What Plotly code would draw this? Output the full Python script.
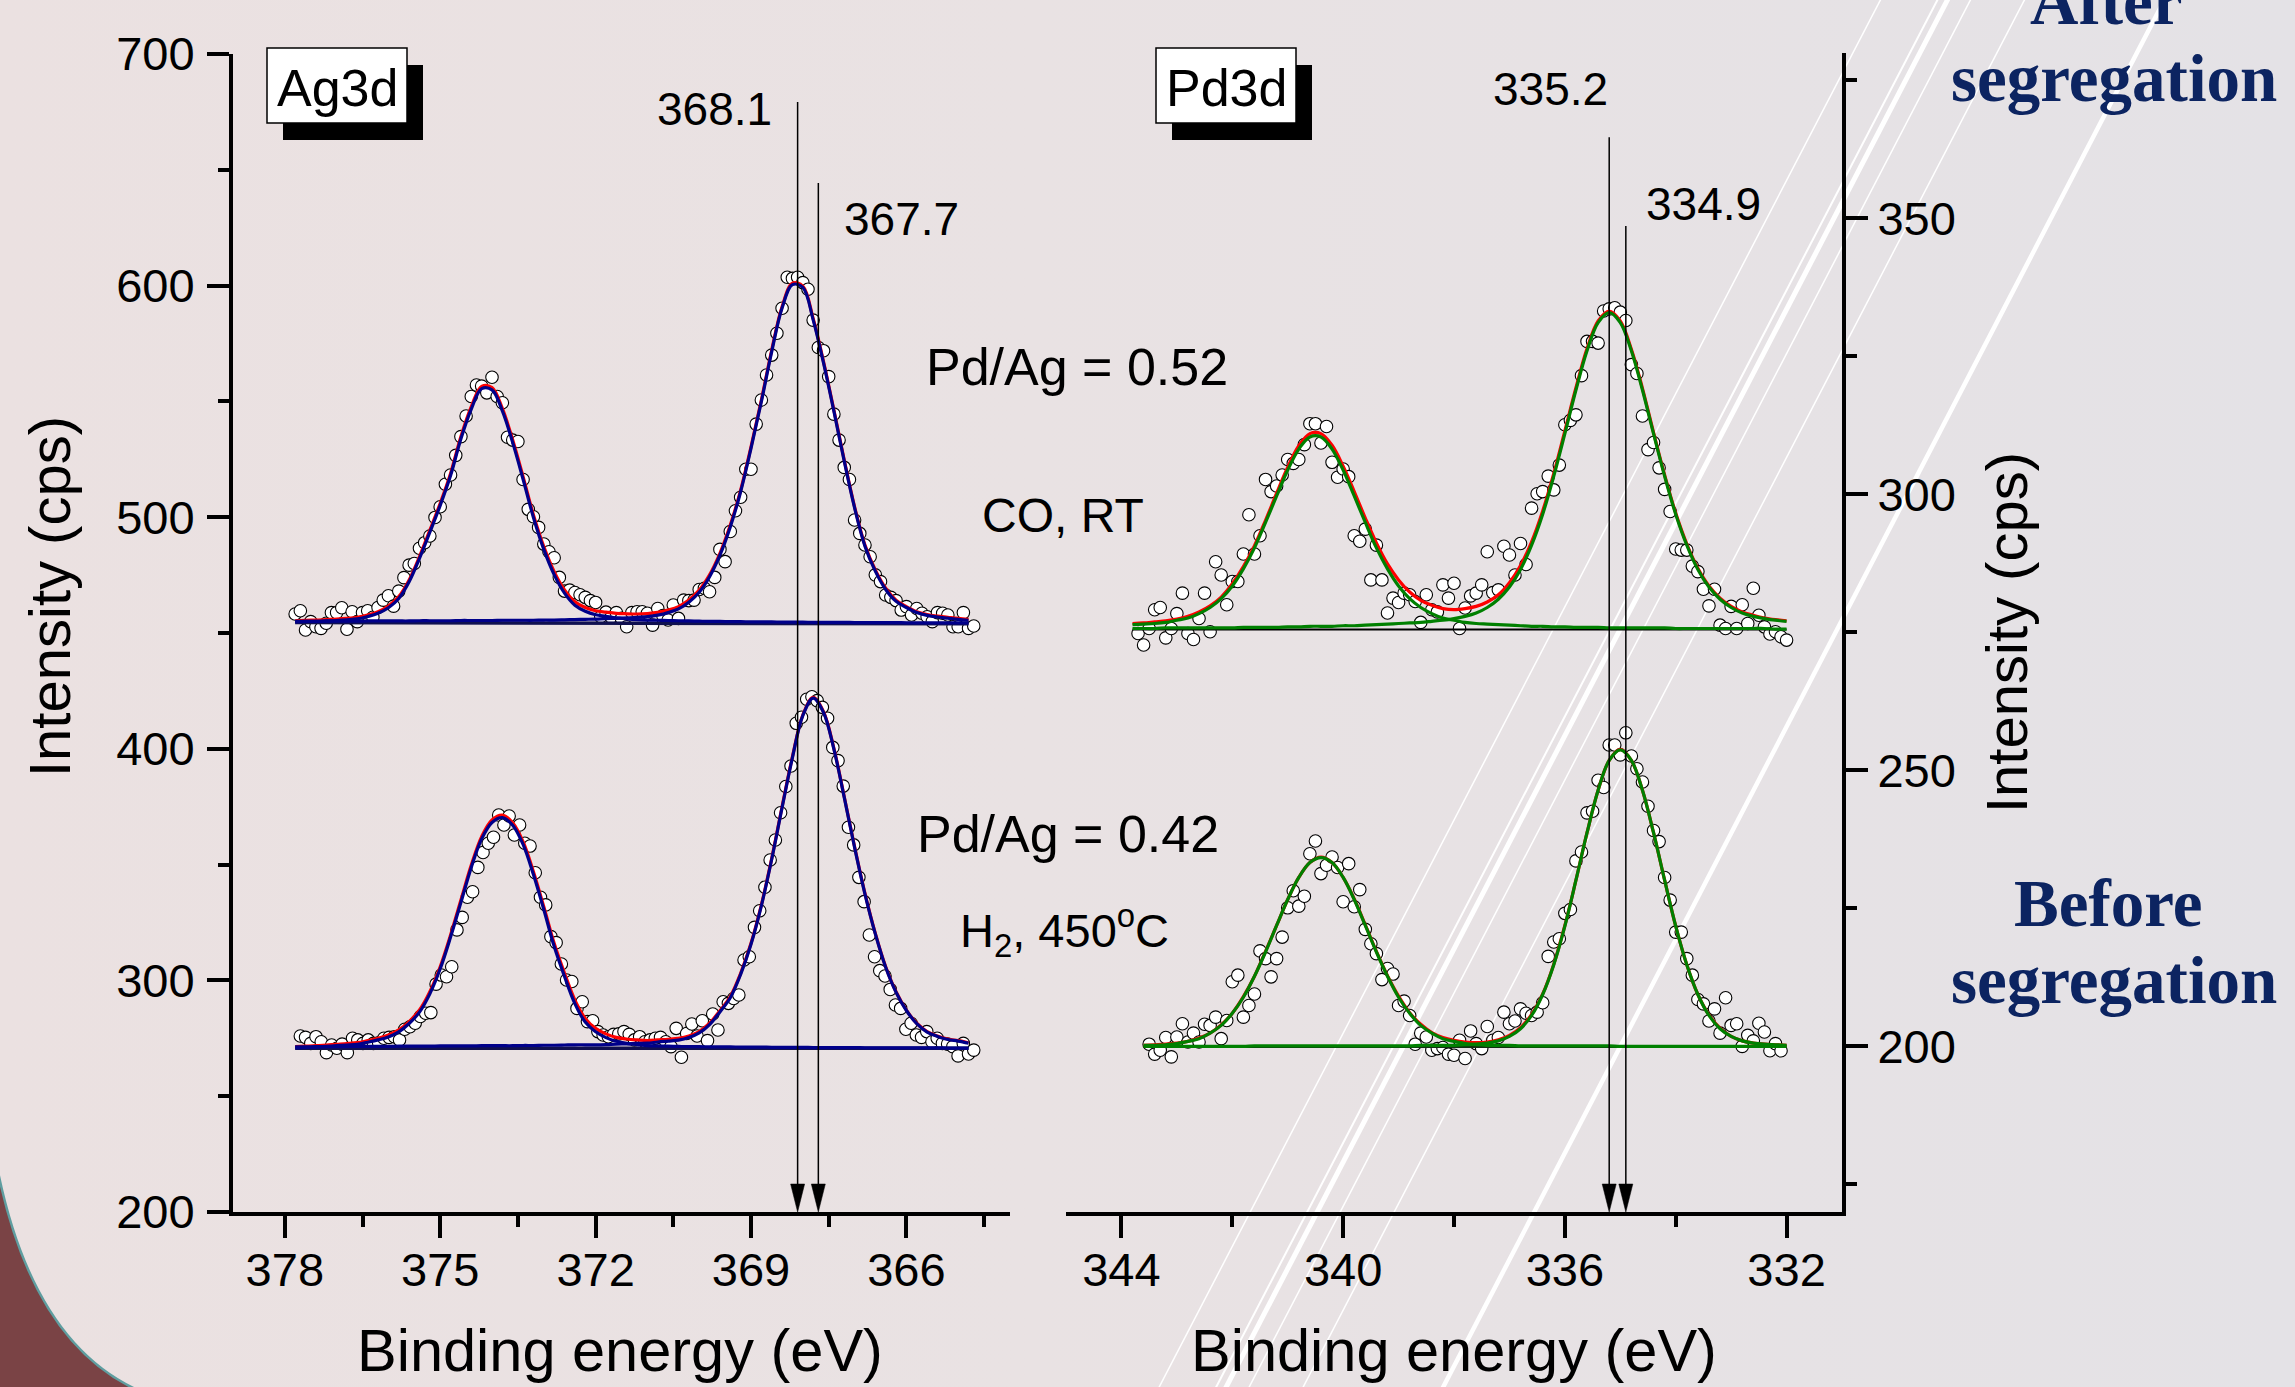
import base64
import numpy as np
import plotly.graph_objects as go

W, H = 2295, 1387
FONT = "Liberation Sans, Arial, sans-serif"

# ======================= DATA =======================
# ---- Ag3d, CO / RT (upper Ag spectrum) ----
ag_co_pts_range = (377.8, 364.7)
ag_co_points = [
    458.2, 459.6, 451.3, 454.9, 452.7, 452.0, 454.2, 458.8, 458.8, 460.9,
    451.6, 459.2, 454.9, 458.8, 459.6, 456.8, 461.0, 464.2, 466.1, 461.6,
    468.1, 473.9, 479.3, 480.0, 486.6, 489.0, 491.9, 499.9, 504.5, 514.2,
    518.2, 526.7, 534.8, 543.7, 552.1, 557.1, 556.6, 553.7, 560.4, 552.1,
    549.4, 534.5, 533.3, 532.7, 516.3, 503.4, 500.2, 495.6, 488.4, 485.1,
    482.5, 474.0, 468.1, 468.5, 467.5, 466.5, 465.4, 464.0, 463.2, 457.0,
    459.0, 456.8, 458.8, 456.3, 452.7, 458.8, 459.2, 459.2,
    458.5, 453.4, 460.6, 457.5, 455.6, 462.1, 456.3, 464.2, 464.0, 464.2,
    468.8, 469.3, 467.8, 474.0, 486.1, 480.8, 493.8, 502.8, 508.6, 520.7,
    520.7, 540.2, 550.6, 561.4, 570.0, 579.4, 590.2, 603.6, 603.1, 603.6,
    601.3, 598.4, 585.1, 573.3, 571.9, 560.7, 544.5, 533.3, 521.5, 516.3,
    498.8, 493.0, 488.0, 482.9, 475.1, 472.2, 466.4, 465.4, 464.0, 459.9,
    461.4, 457.8, 460.6, 458.5, 457.0, 454.9, 458.8, 458.5, 457.8, 452.7,
    452.7, 458.8, 452.0, 453.0]
ag_fit_range = (377.8, 364.8)
ag_co_envelope = [
    455.3, 455.5, 455.6, 455.8, 456.0, 456.3, 456.8, 457.8, 459.2, 461.6,
    465.7, 472.9, 483.0, 494.4, 506.0, 518.9, 534.8, 547.7, 556.5, 556.0,
    547.0, 533.3, 517.5, 501.0, 487.3, 476.5, 468.6, 463.5, 461.0, 459.6,
    459.0, 458.5, 458.3, 458.2, 458.4, 458.9, 459.9, 461.4, 464.2, 468.5,
    475.1, 484.4, 496.6, 511.7, 530.4, 550.6, 572.2, 590.9, 601.0, 599.8,
    585.8, 567.2, 546.3, 524.7, 504.5, 488.0, 477.2, 469.3, 464.2, 461.4,
    459.2, 458.0, 457.3, 456.8, 456.3, 455.9]
ag_co_peak1 = [
    454.8, 455.0, 455.0, 455.2, 455.4, 455.7, 456.1, 457.1, 458.5, 460.9,
    464.9, 472.1, 482.2, 493.5, 505.1, 518.0, 533.9, 546.7, 555.5, 555.0,
    545.9, 532.2, 516.4, 499.9, 486.1, 475.2, 467.2, 462.0, 459.4, 457.9,
    457.2, 456.5, 456.1, 455.8, 455.6, 455.5, 455.4, 455.3, 455.2, 455.1,
    455.0, 455.0, 454.9, 454.9, 454.8, 454.8, 454.8, 454.7, 454.7, 454.7,
    454.6, 454.6, 454.6, 454.6, 454.5, 454.5, 454.5, 454.5, 454.5, 454.4,
    454.4, 454.4, 454.4, 454.4, 454.4, 454.4]
ag_co_peak2 = [
    455.0, 455.0, 455.0, 455.1, 455.1, 455.1, 455.1, 455.2, 455.2, 455.2,
    455.2, 455.2, 455.3, 455.3, 455.3, 455.3, 455.4, 455.4, 455.4, 455.4,
    455.5, 455.5, 455.5, 455.5, 455.6, 455.6, 455.7, 455.8, 455.9, 456.0,
    456.2, 456.3, 456.5, 456.8, 457.1, 457.7, 458.8, 460.4, 463.3, 467.6,
    474.3, 483.6, 495.8, 511.0, 529.7, 549.9, 571.5, 590.3, 600.4, 599.2,
    585.2, 566.6, 545.8, 524.2, 504.0, 487.5, 476.7, 468.8, 463.7, 461.0,
    458.8, 457.6, 456.9, 456.4, 455.9, 455.5]
ag_co_baseline = [454.5, 454.0]

# ---- Ag3d, H2 / 450 C (lower Ag spectrum) ----
ag_h2_pts_range = (377.7, 364.7)
ag_h2_points = [
    276.0, 275.4, 272.8, 275.7, 273.5, 268.8, 272.1, 270.7, 272.5, 268.8,
    275.0, 274.3, 272.8, 274.3, 272.8, 273.1, 275.0, 275.4, 275.7, 274.3,
    278.9, 280.0, 281.5, 284.4, 285.8, 286.1, 298.4, 302.3, 301.6, 305.9,
    321.8, 327.2, 335.9, 338.3, 348.8, 355.2, 359.2, 361.8, 371.4, 367.1,
    371.0, 362.8, 367.1, 359.2, 358.0, 346.5, 335.9, 332.6, 318.9, 316.3,
    307.1, 300.2, 299.5, 287.9, 290.8, 282.2, 282.6, 277.9, 276.4, 275.7,
    276.7, 276.9, 277.9, 276.7, 274.3, 275.7,
    273.5, 274.3, 275.0, 275.4, 273.5, 271.4, 279.3, 266.8, 277.1, 281.2,
    276.0, 282.6, 274.0, 285.5, 278.6, 290.8, 290.1, 292.2, 293.7, 308.8,
    310.2, 322.9, 330.1, 340.2, 352.0, 360.6, 372.4, 383.7, 392.6, 411.0,
    413.6, 421.4, 422.5, 420.8, 417.9, 413.2, 400.6, 394.9, 383.9, 366.1,
    358.5, 344.5, 334.0, 319.6, 310.2, 304.2, 301.9, 296.1, 289.4, 287.9,
    278.9, 281.5, 276.4, 275.4, 277.9, 273.5, 275.0, 272.8, 272.5, 271.4,
    267.4, 272.8, 268.2, 269.9]
ag_h2_envelope = [
    271.4, 271.6, 271.8, 272.1, 272.4, 272.7, 273.1, 274.0, 275.0, 276.4,
    278.6, 282.2, 287.2, 295.1, 305.9, 319.6, 334.7, 349.8, 362.1, 369.3,
    371.4, 368.1, 359.9, 346.9, 331.8, 316.0, 303.1, 291.5, 283.6, 279.3,
    276.9, 275.4, 274.7, 274.3, 274.0, 274.3, 274.6, 275.0, 276.0, 277.9,
    281.5, 286.9, 293.0, 303.1, 316.0, 332.6, 352.7, 375.0, 396.6, 414.6,
    422.2, 416.0, 400.2, 379.3, 357.7, 337.6, 320.3, 305.9, 295.1, 287.2,
    281.5, 277.9, 276.0, 274.7, 274.0, 273.1]
ag_h2_peak1 = [
    270.9, 271.1, 271.2, 271.5, 271.8, 272.1, 272.4, 273.3, 274.3, 275.6,
    277.8, 281.4, 286.3, 294.2, 305.0, 318.7, 333.7, 348.8, 361.1, 368.2,
    370.3, 367.0, 358.7, 345.7, 330.6, 314.7, 301.7, 290.0, 282.0, 277.8,
    275.3, 273.7, 272.8, 272.3, 271.8, 271.7, 271.6, 271.5, 271.4, 271.4,
    271.3, 271.3, 271.3, 271.2, 271.2, 271.2, 271.1, 271.1, 271.1, 271.1,
    271.0, 271.0, 271.0, 271.0, 271.0, 270.9, 270.9, 270.9, 270.9, 270.9,
    270.9, 270.9, 270.9, 270.8, 270.8, 270.8]
ag_h2_peak2 = [
    271.3, 271.3, 271.4, 271.4, 271.4, 271.4, 271.5, 271.5, 271.5, 271.5,
    271.6, 271.6, 271.6, 271.6, 271.7, 271.7, 271.7, 271.7, 271.8, 271.8,
    271.8, 271.8, 271.9, 271.9, 272.0, 272.0, 272.1, 272.2, 272.2, 272.2,
    272.3, 272.5, 272.6, 272.8, 272.9, 273.4, 273.8, 274.2, 275.3, 277.3,
    280.9, 286.4, 292.5, 302.6, 315.6, 332.2, 352.3, 374.6, 396.2, 414.3,
    421.9, 415.7, 399.9, 379.0, 357.4, 337.3, 320.1, 305.7, 294.9, 287.0,
    281.3, 277.7, 275.8, 274.5, 273.8, 272.9]
ag_h2_baseline = [270.7, 270.7]

# ---- Pd3d, CO / RT (upper Pd spectrum) ----
pd_co_pts_range = (343.7, 332.0)
pd_co_points = [
    274.8, 272.7, 275.7, 279.1, 279.5, 274.0, 275.7, 278.4, 282.1, 274.8,
    273.7, 277.5, 282.1, 275.1, 287.8, 285.4, 280.0, 284.2, 284.2, 289.2,
    296.3, 289.2, 292.5, 302.7, 300.5, 301.5, 303.5, 306.3, 305.6, 306.3,
    309.0, 312.8, 312.8, 309.3, 312.3, 305.8, 303.1, 304.6, 303.2, 292.5,
    291.5, 293.7, 284.5, 290.8, 284.5, 278.5, 281.2, 280.4, 282.1, 281.8,
    280.6, 276.8, 281.8, 279.1, 278.7, 283.6, 281.2, 283.9, 275.7, 279.4,
    281.6, 282.1, 283.6, 289.6, 282.2, 282.7, 290.6, 289.0, 285.4, 291.1,
    287.3, 297.5, 300.1, 300.5, 303.3, 300.8, 305.3, 312.6, 313.4, 314.4,
    321.5, 327.7, 327.7, 327.4, 333.2, 333.6, 333.8, 333.0, 331.5, 323.5,
    321.9, 314.2, 308.1, 309.4, 304.8, 300.9, 296.9, 290.1, 289.9, 289.9,
    287.0, 286.0, 282.8, 279.8, 282.8, 276.3, 275.7, 279.7, 275.7, 280.0,
    276.6, 283.0, 278.1, 276.0, 274.7, 275.1, 274.2, 273.6]
pd_co_fit_range = (343.8, 332.0)
pd_co_envelope = [
    276.6, 276.7, 276.9, 277.1, 277.4, 277.9, 278.7, 279.8, 281.4, 283.8,
    286.9, 290.7, 295.3, 300.2, 304.9, 308.8, 311.0, 311.0, 308.9, 305.1,
    300.5, 295.7, 291.2, 287.4, 284.5, 282.3, 280.8, 279.9, 279.3, 279.1,
    279.3, 279.7, 280.5, 281.8, 284.0, 287.1, 291.4, 297.0, 303.8, 311.5,
    319.3, 326.4, 331.4, 333.2, 331.4, 326.3, 319.2, 311.2, 303.5, 296.6,
    291.0, 286.6, 283.4, 281.2, 279.7, 278.7, 278.1, 277.6, 277.3, 277.1]
pd_co_peak1 = [
    276.4, 276.5, 276.6, 276.8, 277.2, 277.6, 278.4, 279.5, 281.1, 283.4,
    286.5, 290.3, 294.9, 299.7, 304.4, 308.2, 310.4, 310.4, 308.2, 304.4,
    299.7, 294.9, 290.3, 286.5, 283.4, 281.1, 279.5, 278.4, 277.6, 277.2,
    276.8, 276.6, 276.5, 276.4, 276.3, 276.2, 276.1, 276.1, 276.0, 276.0,
    275.9, 275.9, 275.9, 275.8, 275.8, 275.8, 275.8, 275.8, 275.8, 275.7,
    275.7, 275.7, 275.7, 275.7, 275.7, 275.7, 275.7, 275.7, 275.6, 275.6]
pd_co_peak2 = [
    275.7, 275.7, 275.7, 275.8, 275.8, 275.8, 275.8, 275.8, 275.8, 275.8,
    275.9, 275.9, 275.9, 275.9, 276.0, 276.0, 276.1, 276.1, 276.1, 276.2,
    276.2, 276.3, 276.4, 276.5, 276.6, 276.7, 276.8, 277.0, 277.2, 277.5,
    277.9, 278.5, 279.5, 281.0, 283.2, 286.4, 290.8, 296.4, 303.3, 311.0,
    318.9, 326.0, 331.1, 332.9, 331.1, 326.0, 318.9, 311.0, 303.3, 296.4,
    290.8, 286.4, 283.2, 281.0, 279.5, 278.5, 277.9, 277.5, 277.2, 277.0]
pd_co_baseline = [275.5, 275.5]

# ---- Pd3d, H2 / 450 C (lower Pd spectrum) ----
pd_h2_pts_range = (343.5, 332.1)
pd_h2_points = [
    200.4, 198.6, 199.3, 201.6, 198.1, 201.7, 204.1, 200.8, 202.4, 200.8,
    204.0, 203.8, 205.3, 201.4, 204.7, 211.7, 212.9, 205.3, 207.4, 209.5,
    217.3, 215.9, 212.6, 215.9, 219.8, 225.1, 228.2, 225.4, 227.2, 234.9,
    237.2, 231.3, 232.8, 234.3, 232.4, 226.2, 233.1, 225.3, 228.4, 221.2,
    218.6, 216.8, 212.1, 214.1, 213.1, 207.4, 208.2, 205.6, 200.4, 202.4,
    201.7, 199.3, 199.6, 199.8, 198.6, 198.4, 201.1, 197.8, 202.8, 200.5,
    199.6, 203.6, 201.1, 201.6, 206.2, 204.1, 204.6, 206.8, 206.0, 205.6,
    206.2, 207.9, 216.3, 218.9, 219.5, 224.1, 224.8, 233.6, 235.2, 242.3,
    242.6, 248.2, 246.9, 254.6, 254.6, 252.8, 256.8, 252.6, 250.3, 247.9,
    243.5, 239.1, 237.1, 230.6, 226.5, 220.7, 220.7, 215.9, 212.9, 208.5,
    207.7, 204.6, 206.8, 202.4, 208.8, 203.8, 204.1, 200.0, 202.0, 201.0,
    204.2, 202.6, 199.2, 200.5, 199.2]
pd_h2_fit_range = (343.6, 332.0)
pd_h2_envelope = [
    200.2, 200.3, 200.4, 200.6, 200.9, 201.5, 202.4, 203.9, 206.0, 209.0,
    212.7, 217.2, 221.9, 226.6, 230.6, 233.3, 234.3, 233.3, 230.6, 226.7,
    222.0, 217.2, 212.8, 209.1, 206.1, 204.0, 202.5, 201.6, 201.1, 200.8,
    200.7, 200.8, 201.2, 202.0, 203.4, 205.8, 209.5, 214.9, 221.9, 230.1,
    238.7, 246.4, 251.8, 253.8, 251.8, 246.4, 238.7, 230.1, 221.8, 214.8,
    209.4, 205.7, 203.3, 201.8, 201.0, 200.6, 200.4, 200.3, 200.2]
pd_h2_peak1 = [
    200.2, 200.2, 200.3, 200.5, 200.9, 201.4, 202.4, 203.8, 206.0, 208.9,
    212.7, 217.1, 221.9, 226.6, 230.6, 233.3, 234.2, 233.3, 230.6, 226.6,
    221.9, 217.1, 212.7, 208.9, 206.0, 203.8, 202.4, 201.4, 200.9, 200.5,
    200.3, 200.2, 200.2, 200.2, 200.1, 200.1, 200.1, 200.1, 200.1, 200.1,
    200.1, 200.1, 200.1, 200.0, 200.0, 200.0, 200.0, 200.0, 200.0, 200.0,
    200.0, 200.0, 200.0, 200.0, 200.0, 200.0, 200.0, 200.0, 200.0]
pd_h2_peak2 = [
    200.0, 200.0, 200.0, 200.0, 200.0, 200.0, 200.0, 200.0, 200.0, 200.0,
    200.1, 200.1, 200.1, 200.1, 200.1, 200.1, 200.1, 200.1, 200.1, 200.1,
    200.1, 200.1, 200.1, 200.1, 200.1, 200.2, 200.2, 200.2, 200.2, 200.3,
    200.4, 200.6, 201.0, 201.8, 203.2, 205.6, 209.4, 214.8, 221.8, 230.1,
    238.7, 246.4, 251.8, 253.7, 251.8, 246.4, 238.7, 230.1, 221.8, 214.8,
    209.4, 205.6, 203.2, 201.8, 201.0, 200.6, 200.4, 200.3, 200.2]
pd_h2_baseline = [200.0, 200.0]

# ---- peak position markers ----
ag_peak_positions = [368.1, 367.7]
ag_peak_labels = ["368.1", "367.7"]
ag_arrow_tops = [679.3, 644.3]
pd_peak_positions = [335.2, 334.9]
pd_peak_labels = ["335.2", "334.9"]
pd_arrow_tops = [364.7, 348.6]

# ---- axes ----
ag_x_ticks = [378, 375, 372, 369, 366]
ag_x_minor = [376.5, 373.5, 370.5, 367.5, 364.5]
ag_y_ticks = [200, 300, 400, 500, 600, 700]
ag_y_minor = [250, 350, 450, 550, 650]
pd_x_ticks = [344, 340, 336, 332]
pd_x_minor = [342, 338, 334]
pd_y_ticks = [200, 250, 300, 350]
pd_y_minor = [175, 225, 275, 325, 375]

# sanity checks
assert len(ag_co_points) == 132 and len(ag_h2_points) == 130
assert len(pd_co_points) == 118 and len(pd_h2_points) == 115
for arr in (ag_co_envelope, ag_co_peak1, ag_co_peak2, ag_h2_envelope, ag_h2_peak1, ag_h2_peak2):
    assert len(arr) == 66, len(arr)
for arr in (pd_co_envelope, pd_co_peak1, pd_co_peak2):
    assert len(arr) == 60, len(arr)
for arr in (pd_h2_envelope, pd_h2_peak1, pd_h2_peak2):
    assert len(arr) == 59, len(arr)


def grid(rng, n):
    return np.round(np.linspace(rng[0], rng[1], n), 4)


def px(x):
    return x / W


def py(y):
    return 1 - y / H


# ======================= FIGURE =======================
fig = go.Figure()

BLUE = "#00008a"
RED = "#ff0000"
GREEN = "#008000"
marker = dict(symbol="circle", size=12.5, color="white", line=dict(color="black", width=1.1))


def add_spectrum(xa, ya, pts_E, pts, fit_E, env, p1, p2, base, comp_color, base_color, base_w):
    fig.add_trace(go.Scatter(x=pts_E, y=pts, mode="markers", marker=marker, xaxis=xa, yaxis=ya,
                             hoverinfo="skip"))
    fig.add_trace(go.Scatter(x=[fit_E[0], fit_E[-1]], y=base, mode="lines",
                             line=dict(color=base_color, width=base_w), xaxis=xa, yaxis=ya))
    fig.add_trace(go.Scatter(x=fit_E, y=env, mode="lines", line=dict(color=RED, width=3.2, shape="spline"),
                             xaxis=xa, yaxis=ya))
    for comp in (p1, p2):
        fig.add_trace(go.Scatter(x=fit_E, y=comp, mode="lines",
                                 line=dict(color=comp_color, width=3.2, shape="spline"),
                                 xaxis=xa, yaxis=ya))


ag_fit_E = grid(ag_fit_range, 66)
add_spectrum("x", "y", grid(ag_co_pts_range, 132), ag_co_points, ag_fit_E,
             ag_co_envelope, ag_co_peak1, ag_co_peak2, ag_co_baseline, BLUE, "#101050", 3.5)
add_spectrum("x", "y", grid(ag_h2_pts_range, 130), ag_h2_points, ag_fit_E,
             ag_h2_envelope, ag_h2_peak1, ag_h2_peak2, ag_h2_baseline, BLUE, "#101050", 3.5)
add_spectrum("x2", "y2", grid(pd_co_pts_range, 118), pd_co_points, grid(pd_co_fit_range, 60),
             pd_co_envelope, pd_co_peak1, pd_co_peak2, pd_co_baseline, GREEN, "#000000", 2.0)
add_spectrum("x2", "y2", grid(pd_h2_pts_range, 115), pd_h2_points, grid(pd_h2_fit_range, 59),
             pd_h2_envelope, pd_h2_peak1, pd_h2_peak2, pd_h2_baseline, GREEN, "#103010", 3.0)

# arrows (vertical line + narrow filled head ending on the x axis)
HEAD_PX_LEN, HEAD_PX_HALF = 28, 7


def add_arrows(xa, ya, positions, tops, xr, yr, xdom, ydom):
    ppx = (xdom[1] - xdom[0]) * W / abs(xr[0] - xr[1])   # px per x-unit
    ppy = (ydom[1] - ydom[0]) * H / abs(yr[1] - yr[0])   # px per y-unit
    hl = HEAD_PX_LEN / ppy
    hw = HEAD_PX_HALF / ppx
    y0 = yr[0]
    for e, top in zip(positions, tops):
        fig.add_trace(go.Scatter(x=[e, e], y=[top, y0 + hl * 0.5], mode="lines",
                                 line=dict(color="black", width=1.5), xaxis=xa, yaxis=ya))
        fig.add_trace(go.Scatter(x=[e - hw, e + hw, e, e - hw], y=[y0 + hl, y0 + hl, y0, y0 + hl],
                                 mode="lines", fill="toself", fillcolor="black",
                                 line=dict(color="black", width=0.5), xaxis=xa, yaxis=ya))


AG_XR, AG_YR = (379, 364), (200, 700)
PD_XR, PD_YR = (345, 331), (170, 380)
AG_XDOM, AG_YDOM = (px(233), px(1010)), (py(1212), py(54))
PD_XDOM, PD_YDOM = (px(1066), px(1842)), (py(1212), py(52.7))

add_arrows("x", "y", ag_peak_positions, ag_arrow_tops, AG_XR, AG_YR, AG_XDOM, AG_YDOM)
add_arrows("x2", "y2", pd_peak_positions, pd_arrow_tops, PD_XR, PD_YR, PD_XDOM, PD_YDOM)

axis_common = dict(showline=True, linewidth=4, linecolor="black", ticks="outside", ticklen=22,
                   tickwidth=4, tickcolor="black", showgrid=False, zeroline=False, automargin=False,
                   tickfont=dict(size=47, family=FONT, color="black"), fixedrange=True)


def minor(vals):
    return dict(tickmode="array", tickvals=vals, ticks="outside", ticklen=11, tickwidth=4,
                tickcolor="black", showgrid=False)


fig.update_layout(
    xaxis=dict(domain=list(AG_XDOM), range=list(AG_XR), anchor="y", tickmode="array",
               tickvals=ag_x_ticks, ticktext=[str(v) for v in ag_x_ticks], minor=minor(ag_x_minor),
               ticklabelstandoff=-8, **axis_common),
    yaxis=dict(domain=list(AG_YDOM), range=list(AG_YR), anchor="x", tickmode="array",
               tickvals=ag_y_ticks, ticktext=[str(v) for v in ag_y_ticks], minor=minor(ag_y_minor),
               ticklabelstandoff=3, **axis_common),
    xaxis2=dict(domain=list(PD_XDOM), range=list(PD_XR), anchor="y2", tickmode="array",
                tickvals=pd_x_ticks, ticktext=[str(v) for v in pd_x_ticks], minor=minor(pd_x_minor),
                ticklabelstandoff=-8, **axis_common),
    yaxis2=dict(domain=list(PD_YDOM), range=list(PD_YR), anchor="x2", side="right", tickmode="array",
                tickvals=pd_y_ticks, ticktext=[str(v) for v in pd_y_ticks], minor=minor(pd_y_minor),
                **axis_common),
)

# ---------------- background (gradient, decorative arc and white strokes) ----------------
stroke_specs = [(1883, 1.5), (1940, 2.0), (1950, 5.0), (1973, 1.5), (2027, 1.5), (2167, 4.5)]
strokes = "".join(
    f"<line x1='{xt}' y1='-5' x2='{xt - 0.52 * (H + 10):.1f}' y2='{H + 5}' stroke='white' stroke-width='{w}'/>"
    for xt, w in stroke_specs)
svg = (f"<svg xmlns='http://www.w3.org/2000/svg' width='{W}' height='{H}' viewBox='0 0 {W} {H}' "
       f"preserveAspectRatio='none'>"
       "<defs><linearGradient id='g' x1='0' y1='0' x2='1' y2='0'>"
       "<stop offset='0' stop-color='#ebe1e1'/><stop offset='0.45' stop-color='#e9e2e3'/>"
       "<stop offset='1' stop-color='#e4e2e6'/></linearGradient></defs>"
       f"<rect x='0' y='0' width='{W}' height='{H}' fill='url(#g)'/>"
       f"{strokes}"
       "<path d='M-10,1125 Q20,1340 142,1392 L-10,1392 Z' fill='#7a4345' stroke='#5f9ea0' stroke-width='2.5'/>"
       "</svg>")
fig.add_layout_image(dict(source="data:image/svg+xml;base64," + base64.b64encode(svg.encode()).decode(),
                          xref="paper", yref="paper", x=0, y=1, sizex=1, sizey=1,
                          xanchor="left", yanchor="top", sizing="stretch", layer="below"))

# ---------------- boxes with shadow ----------------
shapes = []
for (wx0, wy0, wx1, wy1) in [(267, 48, 407, 123), (1156, 48, 1296, 123)]:
    shapes.append(dict(type="rect", xref="paper", yref="paper", x0=px(wx0 + 16), x1=px(wx1 + 16),
                       y0=py(wy1 + 17), y1=py(wy0 + 17), fillcolor="black", line=dict(width=0)))
    shapes.append(dict(type="rect", xref="paper", yref="paper", x0=px(wx0), x1=px(wx1),
                       y0=py(wy1), y1=py(wy0), fillcolor="white", line=dict(color="black", width=1.5)))
fig.update_layout(shapes=shapes)


def ann(text, x, y, size, color="black", family=FONT, angle=0):
    return dict(text=text, x=px(x), y=py(y), xref="paper", yref="paper", showarrow=False,
                xanchor="center", yanchor="middle", textangle=angle,
                font=dict(size=size, family=family, color=color))


NAVY = "#0c2461"
SERIF = "Liberation Serif, Times New Roman, serif"
annotations = [
    ann("Ag3d", 337, 88, 52),
    ann("Pd3d", 1226, 88, 52),
    ann(ag_peak_labels[0], 714, 109, 46),
    ann(ag_peak_labels[1], 902, 219, 46),
    ann(pd_peak_labels[0], 1550, 89, 46),
    ann(pd_peak_labels[1], 1703, 204, 46),
    ann("Pd/Ag = 0.52", 1077, 367, 52),
    ann("CO, RT", 1063, 515, 48),
    ann("Pd/Ag = 0.42", 1068, 834, 52),
    ann("H<sub>2</sub>, 450<sup>o</sup>C", 1064, 930, 47),
    ann("Intensity (cps)", 50, 597, 58, angle=-90),
    ann("Intensity (cps)", 2007, 633, 58, angle=-90),
    ann("Binding energy (eV)", 620, 1350, 59.5),
    ann("Binding energy (eV)", 1454, 1350, 59.5),
    ann("<b>After</b>", 2106, 1, 67, NAVY, SERIF),
    ann("<b>segregation</b>", 2114, 78, 67, NAVY, SERIF),
    ann("<b>Before</b>", 2108, 903, 67, NAVY, SERIF),
    ann("<b>segregation</b>", 2114, 980, 67, NAVY, SERIF),
]

fig.update_layout(
    width=W, height=H, margin=dict(l=0, r=0, t=0, b=0, pad=0), autosize=False,
    paper_bgcolor="#e8e2e4", plot_bgcolor="rgba(0,0,0,0)",
    showlegend=False, annotations=annotations,
    font=dict(family=FONT, color="black"),
)

fig.write_html("out.html", config={"displayModeBar": False, "staticPlot": True},
               post_script="document.body.style.margin='0px';document.body.style.overflow='hidden';")
